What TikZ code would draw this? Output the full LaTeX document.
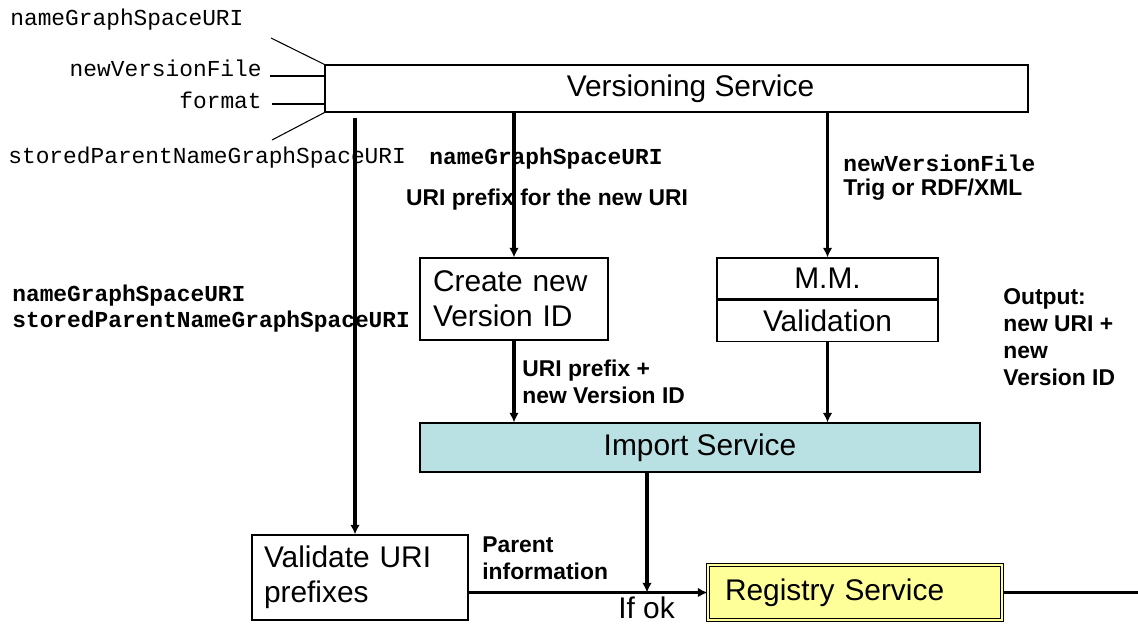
\documentclass[tikz,border=0pt]{standalone}
\usepackage{fontspec}
\setmainfont{Liberation Sans}
\setmonofont{Liberation Mono}
\usepackage{tikz}
\usetikzlibrary{positioning,arrows.meta}

\definecolor{importblue}{HTML}{B9E0E3}
\definecolor{regyellow}{HTML}{FFFF99}
\newcommand{\bigtxt}{\fontsize{17}{20}\selectfont}
\newcommand{\smalltxt}{\fontsize{13}{15.3}\selectfont}

\begin{document}
\begin{tikzpicture}[
	box/.style={rectangle,draw,line width=0.6pt,inner sep=0pt,font=\bigtxt},
	flow/.style={->,line width=1.8pt},
	lbl/.style={inner sep=0pt,anchor=west,align=left,font=\smalltxt\bfseries},
	inlbl/.style={inner sep=0pt,font=\smalltxt\ttfamily},
	>={Latex[length=5.5pt,width=5.5pt]}]

		\useasboundingbox (0,0) rectangle (22.76,12.52);

		% boxes
		\node[box,minimum width=14.06cm,minimum height=0.94cm] (vs) at (13.53,10.75) {\hspace*{0.56cm}Versioning Service};
		\node[box,minimum height=1.64cm,inner xsep=0.26cm,text width=3.24cm,align=left] (cvid) at (10.28,6.54) {Create new\\Version ID};
		\node[box,minimum width=4.42cm,minimum height=0.82cm] (mm) at (16.55,6.95) {M.M.};
		\node[box,minimum width=4.42cm,minimum height=0.82cm,below=0pt of mm] (valid) {Validation};
		\node[box,fill=importblue,minimum width=11.2cm,minimum height=0.98cm] (imp) at (14.0,3.57) {Import Service};
		\node[box,minimum height=1.7cm,inner xsep=0.24cm,text width=3.84cm,align=left] (val) at (7.2,0.97) {Validate URI\\prefixes};
		\node[box,fill=regyellow,double=regyellow,double distance=1.2pt,minimum height=1.1cm,inner xsep=0.34cm,text width=5.2cm,align=left] (reg) at (17.1,0.67) {Registry Service};

		% inputs
		\node[inlbl,anchor=west] (ngs) at (0.20,12.12) {nameGraphSpaceURI};
		\node[inlbl,anchor=east] (nvf) at (5.24,11.16) {newVersionFile};
		\node[inlbl,anchor=east] (fmt) at (5.24,10.52) {format};
		\node[inlbl,anchor=west] (spn) at (0.16,9.36) {storedParentNameGraphSpaceURI};
		\coordinate (in1) at (5.42,11.76);
		\coordinate (in2) at (5.40,11.00);
		\coordinate (in3) at (5.44,10.44);
		\coordinate (in4) at (5.44,9.72);
		\draw[line width=0.6pt] (in1) -- (vs.north west);
		\draw[line width=0.6pt] (in2) -- (in2 -| vs.west);
		\draw[line width=0.6pt] (in3) -- (in3 -| vs.west);
		\draw[line width=0.6pt] (in4) -- (vs.south west);

		% flows
		\draw[flow,shorten <=3pt] ([xshift=-0.1cm]vs.south -| val.north) -- ([xshift=-0.1cm]val.north);
		\draw[flow] (vs.south -| cvid.north) -- (cvid.north);
		\draw[flow] (vs.south -| mm.north) -- (mm.north);
		\draw[flow] (cvid.south) -- (imp.north -| cvid.south);
		\draw[flow] (valid.south) -- (imp.north -| valid.south);
		\coordinate (ifok) at (12.94,0.67);
		\draw[flow] (imp.south -| ifok) -- (ifok);
		\draw[flow] (val.east |- reg.west) -- (reg.west);
		\coordinate (regout) at (22.76,0.67);
		\draw[line width=1.8pt] (reg.east) -- (regout);

		% labels
		\node[lbl,font=\smalltxt\ttfamily\bfseries,anchor=center] (l1) at (10.92,9.34) {nameGraphSpaceURI};
		\node[lbl,anchor=center] (l2) at (10.94,8.52) {URI prefix for the new URI};
		\node[lbl,font=\smalltxt\ttfamily\bfseries] (l3) at (16.86,9.26) {newVersionFile};
		\node[lbl] (l4) at (16.86,8.72) {Trig or RDF/XML};
		\node[lbl,font=\fontsize{13}{14.7}\selectfont\ttfamily\bfseries] (l5) at (0.24,6.34) {nameGraphSpaceURI\\storedParentNameGraphSpaceURI};
		\node[lbl] (l6) at (10.44,4.89) {URI prefix +\\new Version ID};
		\node[lbl] (l7) at (20.06,5.78) {Output:\\new URI +\\new\\Version ID};
		\node[lbl] (l8) at (9.64,1.35) {Parent\\information};
		\node[inner sep=0pt,font=\bigtxt] (l9) at (12.93,0.36) {If ok};

	\end{tikzpicture}
\end{document}
